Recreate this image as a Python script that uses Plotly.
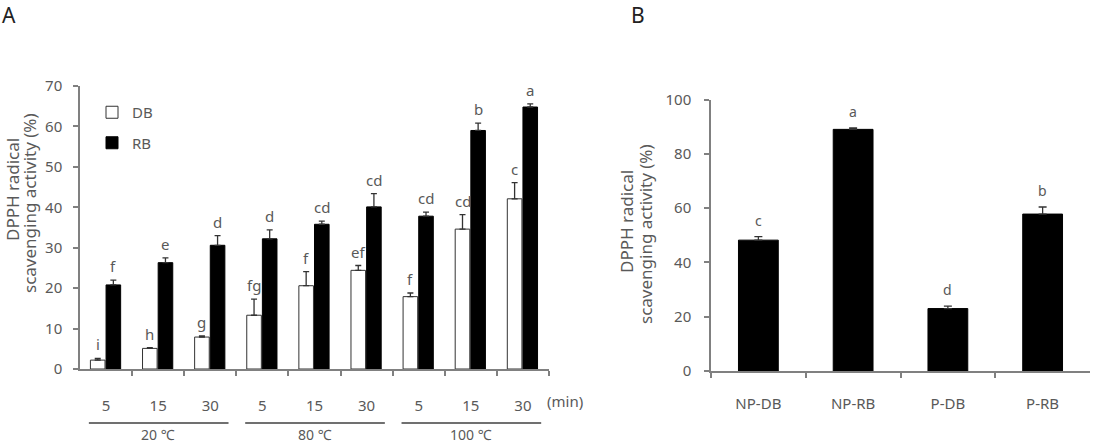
import plotly.graph_objects as go

# ---------------- data ----------------
temps = ["20 ℃", "80 ℃", "100 ℃"]
times = ["5", "15", "30"]
db_vals = [2.2, 5.1, 7.9, 13.3, 20.6, 24.4, 17.9, 34.6, 42.1]
db_err = [0.4, 0.2, 0.3, 4.0, 3.5, 1.2, 0.9, 3.6, 4.0]
db_letters = ["i", "h", "g", "fg", "f", "ef", "f", "cd", "c"]
rb_vals = [20.8, 26.3, 30.6, 32.2, 35.8, 40.1, 37.8, 59.0, 64.8]
rb_err = [1.2, 1.2, 2.4, 2.2, 0.8, 3.3, 1.0, 1.8, 0.8]
rb_letters = ["f", "e", "d", "d", "cd", "cd", "cd", "b", "a"]

b_cats = ["NP-DB", "NP-RB", "P-DB", "P-RB"]
b_vals = [48.2, 89.0, 23.0, 57.8]
b_err = [1.3, 0.5, 0.9, 2.6]
b_letters = ["c", "a", "d", "b"]

# ---------------- layout constants ----------------
W, H = 1095, 447
FONT = "Noto Sans"
GREY = "#595959"
AXIS = "#808080"

def px_x(p):
    return p / W

def px_y(p):
    return (H - p) / H

xpos = list(range(len(db_vals)))
tick_labels = times * len(temps)

fig = go.Figure()

bw = 0.28
fig.add_trace(go.Bar(
    x=xpos, y=db_vals, width=bw, offset=-0.30,
    marker=dict(color="white", line=dict(color="#333333", width=1)),
    error_y=dict(type="data", array=db_err, arrayminus=[0] * len(db_err), symmetric=False,
                 color="#333333", thickness=1.3, width=3),
    name="DB", legendgroup="DB", xaxis="x", yaxis="y",
))
fig.add_trace(go.Bar(
    x=xpos, y=rb_vals, width=bw, offset=0.0,
    marker=dict(color="black", line=dict(color="black", width=1)),
    error_y=dict(type="data", array=rb_err, arrayminus=[0] * len(rb_err), symmetric=False,
                 color="#333333", thickness=1.3, width=3),
    name="RB", legendgroup="RB", xaxis="x", yaxis="y",
))

fig.add_trace(go.Bar(
    x=b_cats, y=b_vals, width=0.42,
    marker=dict(color="black", line=dict(color="black", width=1)),
    error_y=dict(type="data", array=b_err, arrayminus=[0] * len(b_err), symmetric=False,
                 color="#333333", thickness=1.3, width=4),
    showlegend=False, xaxis="x2", yaxis="y2",
))

annotations = []
# significance letters panel A
for i in xpos:
    annotations.append(dict(x=i - 0.30 + bw / 2, y=db_vals[i] + db_err[i], xref="x", yref="y",
                            text=db_letters[i], showarrow=False, yanchor="bottom", yshift=2,
                            font=dict(size=15, color=GREY, family=FONT)))
    annotations.append(dict(x=i + bw / 2, y=rb_vals[i] + rb_err[i], xref="x", yref="y",
                            text=rb_letters[i], showarrow=False, yanchor="bottom", yshift=2,
                            font=dict(size=15, color=GREY, family=FONT)))
# significance letters panel B
for i, c in enumerate(b_cats):
    annotations.append(dict(x=c, y=b_vals[i] + b_err[i], xref="x2", yref="y2",
                            text=b_letters[i], showarrow=False, yanchor="bottom", yshift=5,
                            font=dict(size=14, color=GREY, family=FONT)))

shapes = []
# temperature group underlines and labels
for g, t in enumerate(temps):
    x0 = 3 * g - 0.33
    x1 = 3 * g + 2.35
    shapes.append(dict(type="line", xref="x", yref="paper", x0=x0, x1=x1,
                       y0=px_y(423), y1=px_y(423), line=dict(color="#404040", width=1.3)))
    annotations.append(dict(x=3 * g + 1, y=px_y(446), xref="x", yref="paper", text=t,
                            showarrow=False, yanchor="bottom",
                            font=dict(size=14, color=GREY, family=FONT)))

annotations.append(dict(x=px_x(545), y=px_y(401), xref="paper", yref="paper", text="(min)",
                        showarrow=False, xanchor="left", yanchor="middle",
                        font=dict(size=15, color=GREY, family=FONT)))

# axis titles (two lines, rotated)
for xc, yc, txt in [(12, 190, "DPPH radical"), (29, 203, "scavenging activity (%)"),
                    (627, 222, "DPPH radical"), (645, 234, "scavenging activity (%)")]:
    annotations.append(dict(x=px_x(xc), y=px_y(yc), xref="paper", yref="paper", text=txt,
                            showarrow=False, textangle=-90, xanchor="center", yanchor="middle",
                            font=dict(size=17, color=GREY, family=FONT)))

# panel labels
annotations.append(dict(x=px_x(0), y=px_y(15), xref="paper", yref="paper", text="A",
                        showarrow=False, xanchor="left", yanchor="middle",
                        font=dict(size=21, color="#222222", family=FONT)))
annotations.append(dict(x=px_x(629), y=px_y(15), xref="paper", yref="paper", text="B",
                        showarrow=False, xanchor="left", yanchor="middle",
                        font=dict(size=21, color="#222222", family=FONT)))

axis_common = dict(showline=True, linecolor=AXIS, linewidth=1.5, showgrid=False, zeroline=False,
                   tickfont=dict(size=15, color=GREY, family=FONT), fixedrange=True,
                   automargin=False)

fig.update_layout(
    width=W, height=H,
    margin=dict(l=0, r=0, t=0, b=0, autoexpand=False),
    paper_bgcolor="white", plot_bgcolor="white",
    barmode="overlay",
    showlegend=True,
    legend=dict(x=px_x(92), y=px_y(96), xanchor="left", yanchor="top",
                font=dict(size=15, color=GREY, family=FONT),
                bgcolor="rgba(0,0,0,0)", tracegroupgap=8, itemwidth=30),
    xaxis=dict(domain=[px_x(80), px_x(549)], range=[-0.5, 8.5],
               tickmode="array", tickvals=xpos, ticktext=tick_labels, ticks="",
               ticklabelstandoff=22,
               minor=dict(tickmode="array", tickvals=[i + 0.5 for i in xpos],
                          ticks="outside", ticklen=5, tickcolor=AXIS, tickwidth=1.5),
               **axis_common),
    yaxis=dict(domain=[px_y(369), px_y(86)], range=[0, 70], dtick=10,
               ticks="outside", ticklen=5, tickcolor=AXIS, tickwidth=1.5,
               ticklabelstandoff=8, anchor="x", **axis_common),
    xaxis2=dict(domain=[px_x(711), px_x(1090)], range=[-0.5, 3.5], anchor="y2",
                type="category", tickson="boundaries", ticks="outside", ticklen=5,
                tickcolor=AXIS, tickwidth=1.5, ticklabelstandoff=18, **axis_common),
    yaxis2=dict(domain=[px_y(371), px_y(99.5)], range=[0, 100], dtick=20, anchor="x2",
                ticks="outside", ticklen=5, tickcolor=AXIS, tickwidth=1.5,
                ticklabelstandoff=10, **axis_common),
    annotations=annotations,
    shapes=shapes,
)

fig.write_html("out.html")
